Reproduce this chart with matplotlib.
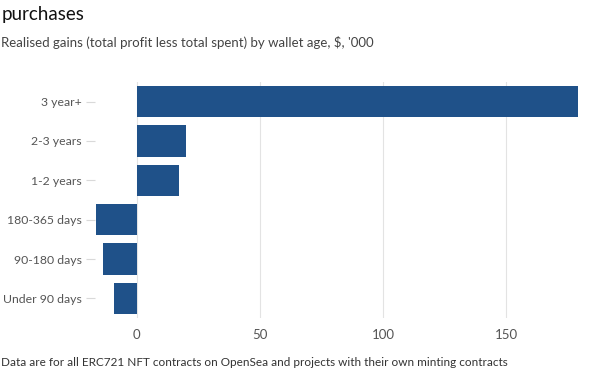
import matplotlib
matplotlib.use("Agg")
import matplotlib.pyplot as plt

# wallet age categories, top to bottom
categories = ["3 year+", "2-3 years", "1-2 years", "180-365 days", "90-180 days", "Under 90 days"]
gains = [179, 20, 17, -16.5, -13.8, -9.1]  # $ '000
xticks = [0, 50, 100, 150]

plt.rcParams['font.family'] = ['Lato', 'DejaVu Sans']

fig = plt.figure(figsize=(6, 3.69), dpi=100)
ax = fig.add_axes([0.158, 0.138, 0.809, 0.640])

ypos = list(range(len(categories)))
ax.barh(ypos, gains, height=0.8, color='#1f5189', zorder=3)

ax.set_yticks(ypos)
ax.set_yticklabels(categories)
ax.set_ylim(len(categories) - 0.5, -0.5)
ax.set_xlim(-17, 180)
ax.set_xticks(xticks)

ax.grid(axis='x', color='#e3e3e3', linewidth=0.8, zorder=0)
for s in ax.spines.values():
    s.set_visible(False)
ax.tick_params(axis='y', length=6.5, color='#d9d9d9', labelcolor='#555555', labelsize=8.8, pad=3)
ax.tick_params(axis='x', length=0, labelcolor='#555555', labelsize=9.5, pad=8)

fig.text(0.002, 0.960, "purchases", fontsize=13.5, color='#111111', va='center')
fig.text(0.002, 0.886, "Realised gains (total profit less total spent) by wallet age, $, '000",
         fontsize=9.5, color='#444444', va='center')
fig.text(0.002, 0.017, "Data are for all ERC721 NFT contracts on OpenSea and projects with their own minting contracts",
         fontsize=8.5, color='#333333', va='center')

fig.savefig("out.png", dpi=100, facecolor='white')
